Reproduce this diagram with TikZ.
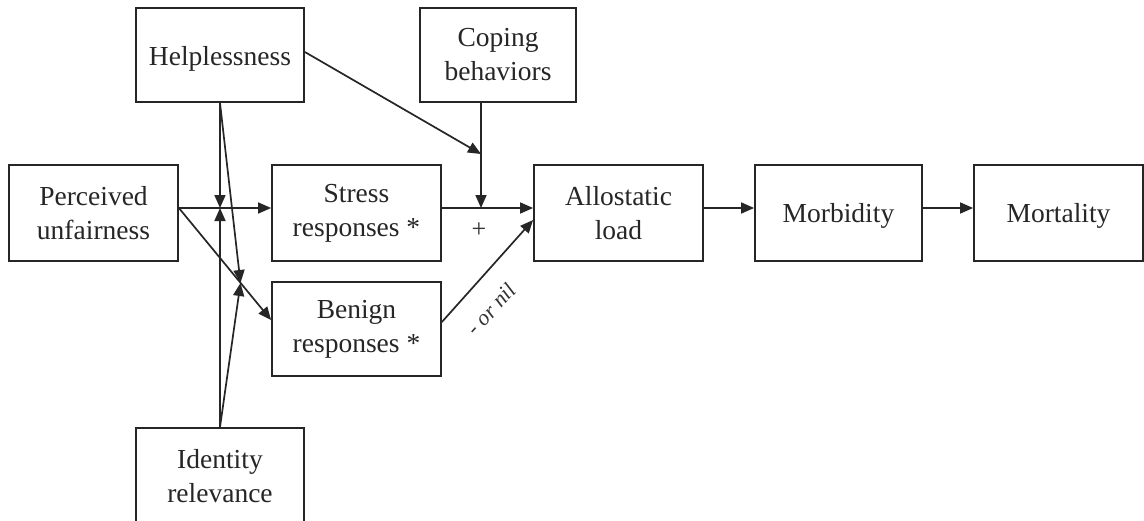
\documentclass[tikz,border=0pt]{standalone}
\usepackage{fontspec}
\setmainfont{Liberation Serif}
\usetikzlibrary{arrows.meta}
\newcommand\lowered[2]{\raisebox{-#1}[\height][\depth]{#2}}
\begin{document}
\begin{tikzpicture}[x=1pt,y=-1pt,
  box/.style={draw=black!85, line width=1.8pt, align=center, inner sep=0pt,
    font=\fontsize{27.5}{34}\selectfont, text=black!85},
  arr/.style={draw=black!85, line width=1.7pt, -{Triangle[length=13pt,width=11pt]}},
  lbl/.style={text=black!80, inner sep=0pt}]
\fill[white] (0,0) rectangle (1144,520);
\clip (0,0) rectangle (1144,520);
\useasboundingbox (0,0) rectangle (1144,520);
% boxes
\node[box, minimum width=168pt, minimum height=94pt] (help) at (220,55) {\lowered{4pt}{Helplessness}};
\node[box, minimum width=156pt, minimum height=94pt] (cope) at (498,55) {Coping\\behaviors};
\node[box, minimum width=169pt, minimum height=96pt] (pu) at (93.5,213) {Perceived\\unfairness};
\node[box, minimum width=169pt, minimum height=96pt] (stress) at (356.5,213) {Stress\\responses *};
\node[box, minimum width=169pt, minimum height=94pt] (benign) at (356.5,329) {Benign\\responses *};
\node[box, minimum width=169pt, minimum height=96pt] (allo) at (618.5,213) {Allostatic\\load};
\node[box, minimum width=167pt, minimum height=96pt] (morb) at (838.5,213) {\lowered{2.5pt}{Morbidity}};
\node[box, minimum width=169pt, minimum height=96pt] (mort) at (1058.5,213) {\lowered{2.5pt}{Mortality}};
\node[box, minimum width=168pt, minimum height=96pt] (ident) at (220,476) {Identity\\relevance};
% junction points
\coordinate (j1) at (220,208);
\coordinate (j2) at (240.5,283);
\coordinate (j3) at (481,208);
\coordinate (j4) at (481,154);
% connectors
\draw[arr] ([yshift=5pt]pu.east) -- ([yshift=5pt]stress.west);
\draw[arr] ([yshift=5pt]pu.east) -- ([yshift=9pt]benign.west);
\draw[arr] (help.south) -- (j1);
\draw[arr] (ident.north) -- (j1);
\draw[arr] (help.south) -- (j2);
\draw[arr] (ident.north) -- (j2);
\draw[arr] ([yshift=3pt]help.east) -- (j4);
\draw[arr] (j3 |- cope.south) -- (j3);
\draw[arr] ([yshift=5pt]stress.east) -- ([yshift=5pt]allo.west);
\draw[arr] ([yshift=7pt]benign.east) -- ([yshift=-7pt]allo.west);
\draw[arr] ([yshift=5pt]allo.east) -- ([yshift=5pt]morb.west);
\draw[arr] ([yshift=5pt]morb.east) -- ([yshift=5pt]mort.west);
% labels
\node[lbl, font=\fontsize{26}{30}\selectfont] (plus) at (479,230) {+};
\node[lbl, font=\fontsize{22}{26}\selectfont\itshape, rotate=47.5] (nil) at (491,309) {- or nil};
\end{tikzpicture}
\end{document}
